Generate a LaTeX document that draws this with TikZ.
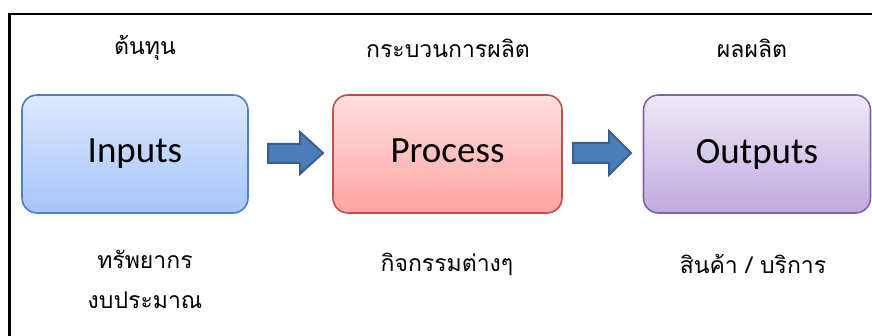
\documentclass[tikz,border=0pt]{standalone}
\usepackage{fontspec}
\setmainfont{Carlito}
\newfontfamily\thaifont[Script=Thai]{Loma}
\definecolor{inB}{HTML}{4F81BD}
\definecolor{inT}{HTML}{DDE8FD}
\definecolor{inBo}{HTML}{A6C4F9}
\definecolor{prB}{HTML}{C0504D}
\definecolor{prT}{HTML}{FFE0E0}
\definecolor{prBo}{HTML}{FFA3A3}
\definecolor{ouB}{HTML}{8064A2}
\definecolor{ouT}{HTML}{EEE9F7}
\definecolor{ouBo}{HTML}{C0AADF}
\definecolor{arF}{HTML}{4A7EBB}
\definecolor{arD}{HTML}{3A5F8B}
\begin{document}
\begin{tikzpicture}[x=1pt,y=-1pt,
  box/.style={rounded corners=15pt, line width=1.6pt, minimum width=226pt, minimum height=118pt, inner sep=0pt, font=\fontsize{37}{40}\selectfont},
  tlabel/.style={font=\thaifont\fontsize{23}{40}\selectfont, inner sep=0pt, align=center},
  bigarrow/.style={arD, line width=2pt, fill=arF, line join=miter}
]
\useasboundingbox (0,0) rectangle (872,336);
\begin{scope}
\clip (0,0) rectangle (872,336);
\draw[line width=2.6pt] (9.5,14) rectangle (890,360);
\end{scope}
\node[box, draw=inB, top color=inT, bottom color=inBo] (inp) at (135,154) {\vphantom{Ip}Inputs};
\node[box, draw=prB, top color=prT, bottom color=prBo, minimum width=229pt] (pro) at (447.5,154) {\vphantom{Ip}Process};
\node[box, draw=ouB, top color=ouT, bottom color=ouBo, minimum width=227pt] (out) at (757,154) {\vphantom{Ip}Outputs};
\draw[bigarrow]
  (268,144) -- (300,144) -- (300,132) -- (323,153) -- (300,174) -- (300,163) -- (268,163) -- cycle;
\draw[bigarrow]
  (573,143) -- (609,143) -- (609,131) -- (631,153) -- (609,175) -- (609,163) -- (573,163) -- cycle;
\node[tlabel] (t1) at (145,48) {ต้นทุน};
\node[tlabel] (t2) at (448,48) {กระบวนการผลิต};
\node[tlabel] (t3) at (752,48) {ผลผลิต};
\node[tlabel] (b1) at (145,279) {ทรัพยากร\\งบประมาณ};
\node[tlabel] (b2) at (447,264) {กิจกรรมต่างๆ};
\node[tlabel] (b3) at (753,264) {สินค้า / บริการ};
\end{tikzpicture}
\end{document}
